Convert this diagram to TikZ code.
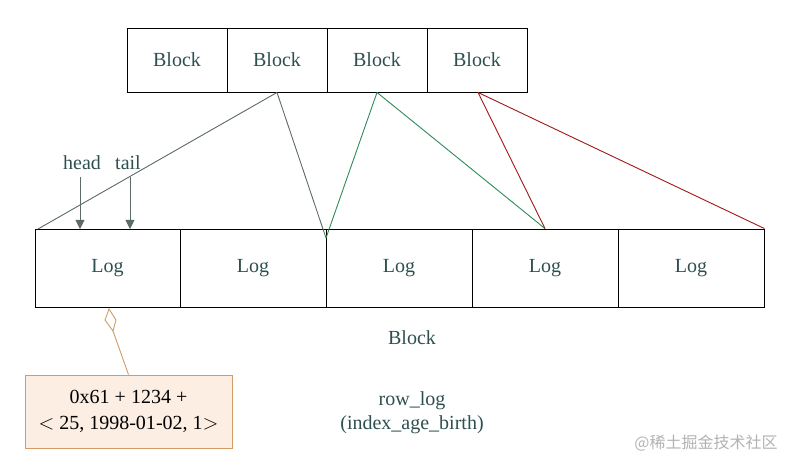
\documentclass[tikz,border=0pt]{standalone}
\usepackage{fontspec}
\setmainfont{Liberation Serif}
\newfontfamily\cjk{Noto Sans CJK SC}
\usetikzlibrary{positioning,arrows.meta}
\definecolor{txt}{HTML}{2E4F4F}
\definecolor{grayln}{HTML}{5E6B6B}
\definecolor{greenln}{HTML}{2E8B57}
\definecolor{redln}{HTML}{A01818}
\definecolor{note}{HTML}{FCEEE3}
\definecolor{noteln}{HTML}{D29A66}
\begin{document}
\begin{tikzpicture}[x=1pt,y=-1pt,line width=0.9pt,
    cell/.style={draw, inner sep=0pt, minimum width=100pt, minimum height=64pt, font=\fontsize{20}{24}\selectfont, text=txt},
    logcell/.style={draw, inner sep=0pt, minimum width=146pt, minimum height=78pt, font=\fontsize{20}{24}\selectfont, text=txt},
    lbl/.style={font=\fontsize{20}{24}\selectfont, text=txt},
    ptr/.style={draw=grayln, -{Triangle[width=9pt,length=9pt]}}]
  \useasboundingbox (0,0) rectangle (792,470);
  % top blocks
  \foreach \i in {0,...,3}
    \node[cell] (b\i) at (177+100*\i,60) {Block};
  % log row
  \node[logcell, minimum width=145pt] (l0) at (107.5,268) {Log};
  \node[logcell] (l1) at (253,268) {Log};
  \node[logcell] (l2) at (399,268) {Log};
  \node[logcell] (l3) at (545,268) {Log};
  \node[logcell] (l4) at (691,268) {Log};
  \coordinate (v0) at (38,229);
  \coordinate (v1) at (326,238);
  % fan-out lines
  \draw[grayln] (b1.south) -- (v0);
  \draw[grayln] (b1.south) -- (v1);
  \draw[greenln] (b2.south) -- (v1);
  \draw[greenln] (b2.south) -- (l3.north);
  \draw[redln] (b3.south) ++(1,0) coordinate (r0) -- (l3.north);
  \draw[redln] (r0) -- (l4.north east);
  % head / tail
  \node[lbl] (head) at (82,163) {head};
  \node[lbl] (tail) at (128,163) {tail};
  \draw[ptr] (80,177) -- (80,229);
  \draw[ptr] (130,177) -- (130,229);
  % record note
  \node[draw=noteln, fill=note, minimum width=207pt, minimum height=73pt, align=center,
        font=\fontsize{20}{26}\selectfont] (rec) at (128.5,411.5) {0x61 + 1234 +\\$<$ 25, 1998-01-02, 1$>$};
  \coordinate (dm) at (113,331);
  \draw[noteln] (rec.north) -- (dm);
  \draw[noteln] (dm) -- (116,320) -- (109,309) -- (105,320) -- cycle;
  % captions
  \node[lbl] (cap) at (412,338) {Block};
  \node[lbl, align=center] (name) at (412,413) {row\_log\\(index\_age\_birth)};
  \node[text=gray!60, font=\cjk\fontsize{16}{18}\selectfont] (wm) at (706,443) {@稀土掘金技术社区};
\end{tikzpicture}
\end{document}
